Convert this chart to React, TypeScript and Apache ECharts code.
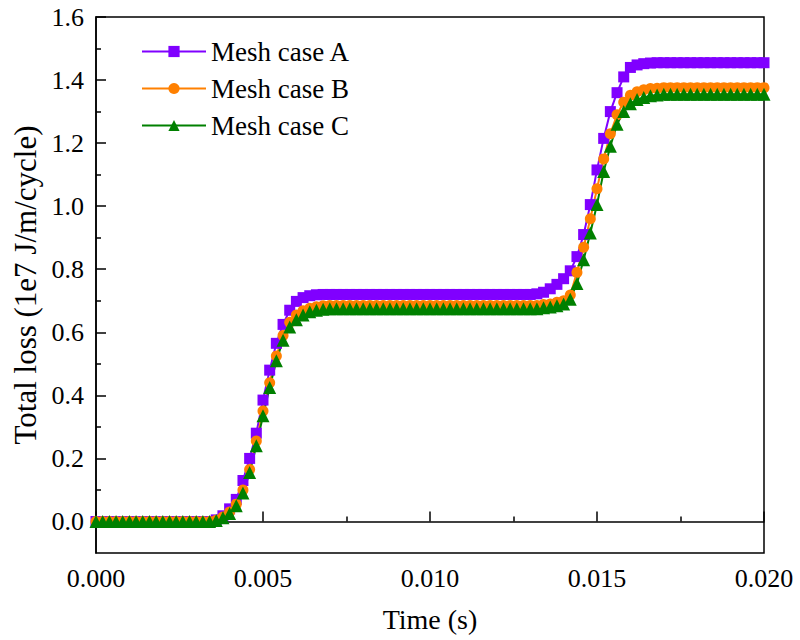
import React, { useEffect, useRef } from "react";
import * as echarts from "echarts";

const TIME_STEP = 0.0002; // sampling step of the simulation (s)

const CASE_A = [
  0, 0, 0, 0, 0, 0, 0, 0, 0, 0, 0, 0, 0, 0, 0, 0, 0, 0,
  0.005, 0.018, 0.04, 0.07, 0.13, 0.2, 0.28, 0.385, 0.48, 0.565, 0.625, 0.67, 0.698, 0.71, 0.716, 0.719, 0.72,
  0.72, 0.72, 0.72, 0.72, 0.72, 0.72, 0.72, 0.72, 0.72, 0.72, 0.72, 0.72, 0.72, 0.72, 0.72, 0.72,
  0.72, 0.72, 0.72, 0.72, 0.72, 0.72, 0.72, 0.72, 0.72, 0.72, 0.72, 0.72, 0.72, 0.72, 0.72,
  0.722, 0.727, 0.738, 0.752, 0.77, 0.795, 0.84, 0.91, 1.005, 1.115, 1.215, 1.3, 1.36, 1.41, 1.44, 1.448, 1.452, 1.454,
  1.455, 1.455, 1.455, 1.455, 1.455, 1.455, 1.455, 1.455, 1.455, 1.455, 1.455, 1.455, 1.455, 1.455, 1.455, 1.455, 1.455,
];

const CASE_B = [
  0, 0, 0, 0, 0, 0, 0, 0, 0, 0, 0, 0, 0, 0, 0, 0, 0, 0,
  0.004, 0.014, 0.03, 0.055, 0.1, 0.165, 0.255, 0.35, 0.44, 0.525, 0.59, 0.632, 0.655, 0.668, 0.676, 0.681, 0.684,
  0.685, 0.685, 0.685, 0.685, 0.685, 0.685, 0.685, 0.685, 0.685, 0.685, 0.685, 0.685, 0.685, 0.685, 0.685, 0.685,
  0.685, 0.685, 0.685, 0.685, 0.685, 0.685, 0.685, 0.685, 0.685, 0.685, 0.685, 0.685, 0.685, 0.685, 0.685, 0.685,
  0.688, 0.69, 0.695, 0.7, 0.718, 0.79, 0.87, 0.96, 1.055, 1.15, 1.23, 1.29, 1.33, 1.352, 1.363, 1.369, 1.373, 1.374,
  1.376, 1.376, 1.376, 1.376, 1.376, 1.376, 1.376, 1.376, 1.376, 1.376, 1.376, 1.376, 1.376, 1.376, 1.376, 1.376,
];

const CASE_C = [
  0, 0, 0, 0, 0, 0, 0, 0, 0, 0, 0, 0, 0, 0, 0, 0, 0, 0,
  0.003, 0.012, 0.025, 0.05, 0.09, 0.155, 0.24, 0.335, 0.425, 0.51, 0.575, 0.617, 0.64, 0.655, 0.665, 0.67, 0.673,
  0.675, 0.675, 0.675, 0.675, 0.675, 0.675, 0.675, 0.675, 0.675, 0.675, 0.675, 0.675, 0.675, 0.675, 0.675, 0.675,
  0.675, 0.675, 0.675, 0.675, 0.675, 0.675, 0.675, 0.675, 0.675, 0.675, 0.675, 0.675, 0.675, 0.675, 0.675, 0.675,
  0.678, 0.68, 0.684, 0.69, 0.705, 0.755, 0.83, 0.915, 1.005, 1.11, 1.19, 1.26, 1.3, 1.325, 1.338, 1.345, 1.35, 1.353,
  1.355, 1.355, 1.355, 1.355, 1.355, 1.355, 1.355, 1.355, 1.355, 1.355, 1.355, 1.355, 1.355, 1.355, 1.355, 1.355,
];

const SERIES_NAMES = ["Mesh case A", "Mesh case B", "Mesh case C"];
const Y_MAJOR = [0, 0.2, 0.4, 0.6, 0.8, 1.0, 1.2, 1.4, 1.6];
const Y_MINOR = [0.1, 0.3, 0.5, 0.7, 0.9, 1.1, 1.3, 1.5];

const FONT = "'Liberation Serif', 'Times New Roman', serif";

function pairs(values: number[]) {
  return values.map((v, i) => [Number((i * TIME_STEP).toFixed(4)), v]);
}

export default function App() {
  const ref = useRef<HTMLDivElement>(null);

  useEffect(() => {
    document.body.style.margin = "0";
    if (!ref.current) return;
    const chart = echarts.init(ref.current, undefined, { renderer: "svg" });
    const axisLine = { show: true, lineStyle: { color: "#000", width: 1.5 } };
    const colors = ["#8000ff", "#ff8000", "#008000"];
    const symbols = ["rect", "circle", "triangle"];
    const sizes = [11, 11, 13];
    const data = [CASE_A, CASE_B, CASE_C];
    chart.setOption({
      animation: false,
      backgroundColor: "#fff",
      grid: {
        left: 96,
        right: 36,
        top: 17,
        bottom: 87,
        show: true,
        borderColor: "#000",
        borderWidth: 1.5,
        backgroundColor: "transparent",
      },
      legend: {
        orient: "vertical",
        left: 136,
        top: 33,
        itemWidth: 64,
        itemHeight: 14,
        itemGap: 10,
        textStyle: { fontFamily: FONT, fontSize: 27, color: "#000" },
        data: SERIES_NAMES,
      },
      xAxis: {
        type: "value",
        min: 0,
        max: 0.02,
        interval: 0.005,
        name: "Time (s)",
        nameLocation: "middle",
        nameGap: 52,
        nameTextStyle: { fontFamily: FONT, fontSize: 28, color: "#000" },
        axisLine,
        axisTick: { show: true, inside: true, length: 10, lineStyle: { color: "#000", width: 1.5 } },
        minorTick: { show: true, splitNumber: 2, length: 5, lineStyle: { color: "#000", width: 1.5 } },
        splitLine: { show: false },
        minorSplitLine: { show: false },
        axisLabel: {
          fontFamily: FONT,
          fontSize: 26,
          color: "#000",
          margin: 12,
          formatter: (v: number) => v.toFixed(3),
        },
      },
      yAxis: [
        {
          type: "value",
          min: -0.1,
          max: 1.6,
          name: "Total loss (1e7 J/m/cycle)",
          nameLocation: "middle",
          nameGap: 54,
          nameTextStyle: { fontFamily: FONT, fontSize: 31, color: "#000" },
          axisLine,
          axisTick: {
            show: true,
            inside: true,
            length: 10,
            customValues: Y_MAJOR,
            lineStyle: { color: "#000", width: 1.5 },
          },
          splitLine: { show: false },
          axisLabel: {
            fontFamily: FONT,
            fontSize: 26,
            color: "#000",
            margin: 12,
            customValues: Y_MAJOR,
            formatter: (v: number) => v.toFixed(1),
          },
        },
        {
          type: "value",
          position: "left",
          min: -0.1,
          max: 1.6,
          axisLine: { show: false },
          axisTick: {
            show: true,
            inside: true,
            length: 5,
            customValues: Y_MINOR,
            lineStyle: { color: "#000", width: 1.5 },
          },
          axisLabel: { show: false },
          splitLine: { show: false },
        },
      ],
      series: data.map((d, k) => ({
        name: SERIES_NAMES[k],
        type: "line",
        data: pairs(d),
        symbol: symbols[k],
        symbolSize: sizes[k],
        showAllSymbol: true,
        color: colors[k],
        itemStyle: { color: colors[k] },
        lineStyle: { color: colors[k], width: 2 },
        yAxisIndex: 0,
      })),
    });
    return () => chart.dispose();
  }, []);

  return <div ref={ref} style={{ width: 800, height: 640 }} />;
}
